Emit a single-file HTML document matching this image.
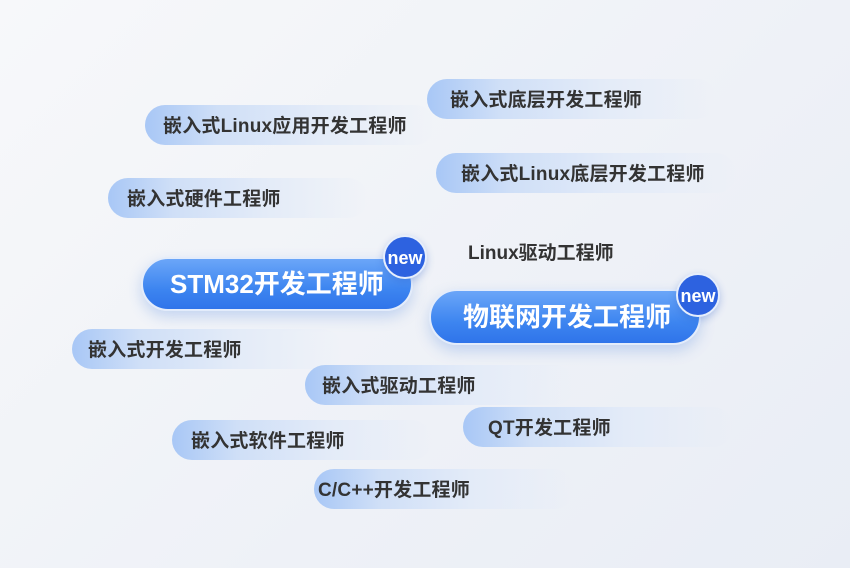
<!DOCTYPE html>
<html><head><meta charset="utf-8"><style>
body{margin:0;width:850px;height:568px;overflow:hidden;background:linear-gradient(135deg,#f7f8fa 0%,#eef1f7 60%,#e9edf5 100%);font-family:"Liberation Sans","Noto Sans CJK SC",sans-serif;position:relative}
.p{position:absolute;height:40px;border-radius:20px;background:linear-gradient(90deg,#a8c7f6 0%,#cfdff7 25%,#e3ebf8 60%,rgba(236,240,248,0) 100%);color:#333;font-weight:bold;font-size:19px;line-height:44px;white-space:nowrap;box-sizing:border-box;letter-spacing:0.2px}
.b{position:absolute;border-radius:28px;background:linear-gradient(180deg,#6ba6f8 0%,#3d85f0 60%,#2f74ea 100%);color:#fff;font-weight:bold;white-space:nowrap;box-shadow:0 6px 14px rgba(60,120,220,0.25);border:2px solid #e3ecfb;box-sizing:border-box}
.n{position:absolute;width:44px;height:44px;border-radius:50%;background:#2d62e0;color:#fff;font-weight:bold;font-size:18px;line-height:42px;text-align:center;border:2px solid #e6eefc;box-sizing:border-box;box-shadow:0 3px 8px rgba(40,90,200,0.3)}
</style></head><body>
<div class="p" style="left:145px;top:105px;width:290px;padding-left:18px">嵌入式Linux应用开发工程师</div>
<div class="p" style="left:427px;top:79px;width:290px;padding-left:23px">嵌入式底层开发工程师</div>
<div class="p" style="left:436px;top:153px;width:300px;padding-left:25px">嵌入式Linux底层开发工程师</div>
<div class="p" style="left:108px;top:178px;width:260px;padding-left:19px">嵌入式硬件工程师</div>
<div style="position:absolute;left:468px;top:242px;font-size:19px;font-weight:bold;color:#333;line-height:24px">Linux驱动工程师</div>
<div class="b" style="left:141px;top:257px;width:272px;height:54px;line-height:50px;padding-left:27px;font-size:26px">STM32开发工程师</div>
<div class="n" style="left:383px;top:235px">new</div>
<div class="b" style="left:429px;top:289px;width:272px;height:56px;line-height:52px;padding-left:32px;font-size:26px">物联网开发工程师</div>
<div class="n" style="left:676px;top:273px">new</div>
<div class="p" style="left:72px;top:329px;width:270px;padding-left:16px">嵌入式开发工程师</div>
<div class="p" style="left:305px;top:365px;width:270px;padding-left:17px">嵌入式驱动工程师</div>
<div class="p" style="left:463px;top:407px;width:270px;padding-left:25px">QT开发工程师</div>
<div class="p" style="left:172px;top:420px;width:260px;padding-left:19px">嵌入式软件工程师</div>
<div class="p" style="left:314px;top:469px;width:260px;padding-left:4px">C/C++开发工程师</div>
</body></html>
